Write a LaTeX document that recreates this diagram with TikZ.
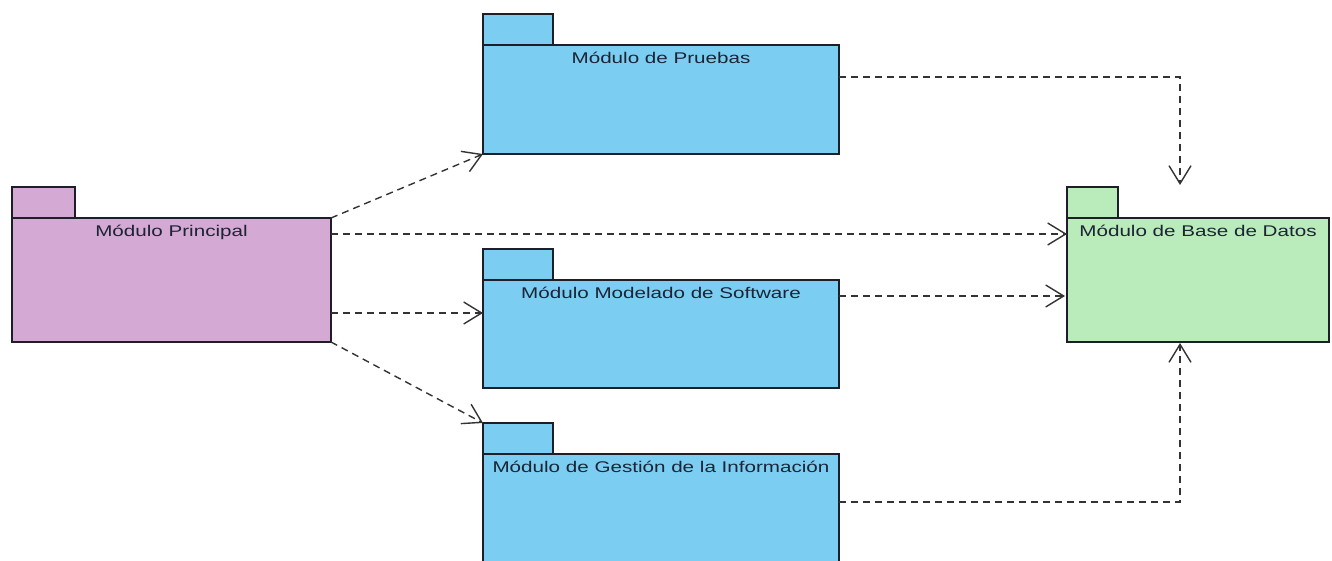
\documentclass[tikz,border=0pt]{standalone}
\usepackage{fontspec}
\setmainfont{Liberation Sans}
\usetikzlibrary{arrows.meta}
\definecolor{pinkfill}{HTML}{D4AAD5}
\definecolor{bluefill}{HTML}{7BCEF2}
\definecolor{greenfill}{HTML}{BAEBBA}
\definecolor{edgec}{HTML}{1E1E28}
\definecolor{depc}{HTML}{333333}
\definecolor{txtc}{HTML}{1C2436}
\newcommand\pkgfont{\fontsize{15.5}{18}\selectfont}
\newcommand\pkgtext[1]{\scalebox{1.33}[1]{#1}}
\tikzset{
  pkgbody/.style={draw=edgec, line width=1.5pt, rectangle, inner sep=0pt, outer sep=0pt, anchor=north west},
  pkgtab/.style={pkgbody, anchor=south west, minimum height=31pt},
  pkglabel/.style={anchor=north, inner sep=0pt, text=txtc, font=\pkgfont},
  dep/.style={draw=depc, line width=1.4pt, dash pattern=on 7pt off 5pt,
    -{Straight Barb[length=18pt,width=22pt,line width=1.4pt]}}
}
\begin{document}
\begin{tikzpicture}[x=1pt,y=-1pt]
  \fill[white] (0,0) rectangle (1332,561);
  \useasboundingbox (0,0) rectangle (1332,561);

  % packages: body, tab on top left, name near the top
  \node[pkgbody, fill=pinkfill, minimum width=319pt, minimum height=124pt] (prin) at (12,218) {};
  \node[pkgtab, fill=pinkfill, minimum width=63pt] (prin-tab) at (prin.north west) {};
  \node[pkglabel] (prin-lbl) at ([yshift=-7pt]prin.north) {\pkgtext{Módulo Principal}};

  \node[pkgbody, fill=bluefill, minimum width=356pt, minimum height=109pt] (prue) at (483,45) {};
  \node[pkgtab, fill=bluefill, minimum width=70pt] (prue-tab) at (prue.north west) {};
  \node[pkglabel] (prue-lbl) at ([yshift=-7pt]prue.north) {\pkgtext{Módulo de Pruebas}};

  \node[pkgbody, fill=bluefill, minimum width=356pt, minimum height=108pt] (mode) at (483,280) {};
  \node[pkgtab, fill=bluefill, minimum width=70pt] (mode-tab) at (mode.north west) {};
  \node[pkglabel] (mode-lbl) at ([yshift=-7pt]mode.north) {\pkgtext{Módulo Modelado de Software}};

  \node[pkgbody, fill=bluefill, minimum width=356pt, minimum height=130pt] (gest) at (483,454) {};
  \node[pkgtab, fill=bluefill, minimum width=70pt] (gest-tab) at (gest.north west) {};
  \node[pkglabel] (gest-lbl) at ([yshift=-7pt]gest.north) {\pkgtext{Módulo de Gestión de la Información}};

  \node[pkgbody, fill=greenfill, minimum width=262pt, minimum height=124pt] (bd) at (1067,218) {};
  \node[pkgtab, fill=greenfill, minimum width=51pt] (bd-tab) at (bd.north west) {};
  \node[pkglabel] (bd-lbl) at ([yshift=-7pt]bd.north) {\pkgtext{Módulo de Base de Datos}};

  % connector end points
  \coordinate (prin-bd) at ([yshift=-16pt]prin.north east);
  \coordinate (bd-prin) at ([yshift=-16pt]bd.north west);
  \coordinate (mode-in) at ([yshift=-33pt]mode.north west);
  \coordinate (mode-out) at ([yshift=-16pt]mode.north east);
  \coordinate (bd-mode) at ([xshift=-2pt]mode-out -| bd.west);
  \coordinate (prue-out) at ([yshift=-32pt]prue.north east);
  \coordinate (bd-top) at ([xshift=113pt,yshift=2pt]bd-tab.north west);
  \coordinate (gest-out) at ([yshift=-48pt]gest.north east);
  \coordinate (bd-bot) at ([xshift=113pt,yshift=-1pt]bd.south west);

  % dependencies
  \draw[dep] (prin.north east) -- (prue.south west);
  \draw[dep] (prin-bd) -- (bd-prin);
  \draw[dep] (prin.east |- mode-in) -- (mode-in);
  \draw[dep] (prin.south east) -- (gest-tab.north west);
  \draw[dep] (prue-out) -| (bd-top);
  \draw[dep] (mode-out) -- (bd-mode);
  \draw[dep] (gest-out) -| (bd-bot);
\end{tikzpicture}
\end{document}
